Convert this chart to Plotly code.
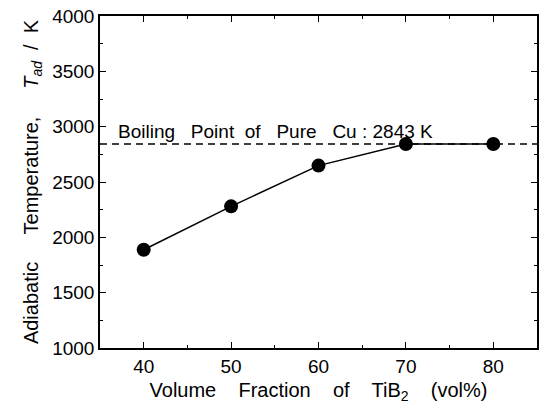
import plotly.graph_objects as go

vol_fraction = [40, 50, 60, 70, 80]
t_ad = [1888, 2280, 2648, 2843, 2843]
boiling_point = 2843
x_range = [35, 85]
y_range = [1000, 4000]
x_ticks = [40, 50, 60, 70, 80]
y_ticks = [1000, 1500, 2000, 2500, 3000, 3500, 4000]

FONT = "Liberation Sans, Arial, sans-serif"

fig = go.Figure()
fig.add_trace(go.Scatter(
    x=x_range, y=[boiling_point, boiling_point], mode="lines",
    line=dict(color="black", width=1.5, dash="7px,5px"), hoverinfo="skip",
))
fig.add_trace(go.Scatter(
    x=vol_fraction, y=t_ad, mode="lines+markers",
    line=dict(color="black", width=1.5),
    marker=dict(color="black", size=14),
))
fig.add_annotation(
    x=x_range[0], y=boiling_point, xref="x", yref="y",
    text="Boiling   Point  of   Pure   Cu : 2843 K", showarrow=False,
    xanchor="left", yanchor="bottom", xshift=16, yshift=0,
    font=dict(family=FONT, size=19, color="black"),
)

axis_common = dict(
    showline=True, linecolor="black", linewidth=1.5, mirror="ticks",
    ticks="inside", ticklen=6, tickwidth=1.2, tickcolor="black",
    showgrid=False, zeroline=False,
    tickfont=dict(family=FONT, size=19, color="black"),
)
fig.update_xaxes(
    range=x_range, tickvals=x_ticks, **axis_common,
    minor=dict(ticks="inside", dtick=5, tick0=35, ticklen=3, tickcolor="black", tickwidth=1.2),
    title=dict(text="Volume    Fraction    of    TiB<sub>2</sub>    (vol%)",
               font=dict(family=FONT, size=20, color="black"), standoff=7),
)
fig.update_yaxes(
    range=y_range, tickvals=y_ticks, **axis_common,
    minor=dict(ticks="inside", dtick=250, tick0=1000, ticklen=3, tickcolor="black", tickwidth=1.2),
    title=dict(text="Adiabatic     Temperature,     <i>T<sub>ad</sub></i>  /  K",
               font=dict(family=FONT, size=20, color="black"), standoff=8),
)
fig.update_layout(
    width=540, height=410,
    margin=dict(l=100, r=1, t=16, b=62),
    plot_bgcolor="white", paper_bgcolor="white",
    showlegend=False,
)
fig.write_html("out.html")
